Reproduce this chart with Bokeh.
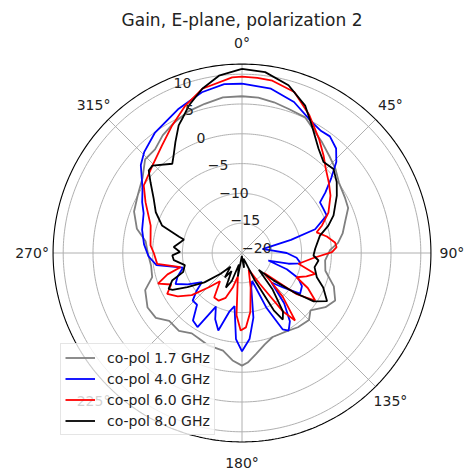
import numpy as np
from bokeh.plotting import figure
from bokeh.models import Legend, LegendItem, Range1d
from bokeh.core.properties import value
from bokeh.embed import file_html
from bokeh.resources import INLINE

# ---------------- data (angle in degrees clockwise from top, gain in dB) -------------
title_text = "Gain, E-plane, polarization 2"
series_labels = ["co-pol 1.7 GHz", "co-pol 4.0 GHz", "co-pol 6.0 GHz", "co-pol 8.0 GHz"]
series_colors = ["gray", "blue", "red", "black"]

ang_17 = [0, 6, 12, 18, 25, 29, 36, 42, 48, 54, 62, 67, 73, 79, 84, 88, 95, 102, 110, 117,
          123, 130, 135, 143, 151, 160, 166, 172, 177, 180, 185, 191, 200, 206, 212, 219, 227,
          233, 240, 249, 255, 262, 270, 277, 283, 291, 299, 307, 314, 320, 326, 332, 339, 346,
          353, 360]
gain_17 = [6.3, 6.2, 5.85, 5.4, 5.1, 4.15, 2.9, 1.9, 1.1, 0.1, -0.4, -0.65, -1.9, -2.8, -3.8,
           -5.2, -6.0, -5.7, -3.6, -2.45, -3.3, -5.0, -4.1, -4.4, -4.9, -5.0, -4.2, -2.9, -1.6,
           -1.1, -1.9, -3.3, -3.5, -3.9, -4.1, -3.2, -3.3, -1.9, -1.7, -2.6, -4.4, -4.6, -4.2,
           -3.7, -1.9, -0.6, 0.0, 0.9, 2.6, 2.7, 3.8, 4.6, 5.4, 5.8, 6.3, 6.3]

ang_40 = [0, 10, 19, 28, 33, 37, 42, 46, 50, 54, 57, 61, 66, 72, 75, 79, 85, 90, 95, 100, 103,
          106, 110, 114, 119, 125, 130, 135, 140, 145, 149, 152, 156, 160, 165, 170, 175, 180,
          184, 188, 192, 197, 202, 206, 211, 216, 221, 226, 230, 234, 240, 245, 250, 256, 262,
          268, 275, 283, 292, 297, 303, 311, 316, 324, 336, 346, 354, 360]
gain_40 = [8.4, 8.0, 6.8, 4.9, 4.4, 4.5, 3.6, 2.0, -0.45, -2.7, -4.4, -4.45, -4.45, -7.1, -11.5,
           -16.5, -15, -12.5, -10.8, -10.0, -12, -15.4, -12, -9.7, -8.5, -8.1, -11, -13, -9, -6,
           -4.8, -5.5, -10, -15, -14, -9, -5.5, -3.5, -5.5, -11, -10, -6.4, -8, -10, -5.5, -6,
           -8.5, -8.5, -10, -11.7, -9.5, -7.7, -8.5, -9.8, -5.5, -4.3, -3.5, -2.8, -2.2, -1.2,
           -0.1, 2.5, 3.6, 4.9, 6.4, 7.8, 8.5, 8.4]

ang_60 = [0, 5, 10, 18, 26, 34, 40, 45, 51, 57, 65, 71, 74.5, 79, 83.5, 86.5, 89.5, 94, 100.8,
          105.9, 110, 114, 118, 123, 127, 132, 137, 141.8, 145, 150, 158, 166, 172, 177, 181,
          185, 190, 195, 200, 206, 212, 218, 224, 230, 236, 241.4, 246, 250, 254, 257, 262.7,
          270, 274.7, 286.7, 297.8, 304.5, 314.3, 323.4, 331.3, 339, 346.4, 356.8, 360]
gain_60 = [9.6, 9.5, 9.35, 8.4, 5.75, 3.1, 1.3, -0.1, -1.25, -2.3, -4.0, -5.8, -7.0, -5.5, -4.3,
           -4.1, -4.9, -8, -10.35, -7.2, -8.5, -10, -7.5, -5.35, -8.5, -15, -10, -5.6, -8, -14,
           -17, -14, -10, -7.5, -7.0, -9.5, -16, -14, -12, -11.1, -11.2, -14, -12, -9, -7, -5.7,
           -7.0, -5.0, -7.0, -9.4, -5.65, -5.2, -4.6, -4.0, -1.7, 0.0, 1.0, 2.5, 4.4, 6.5, 8.35,
           9.5, 9.6]

ang_80 = [0, 7.3, 15.5, 23.2, 28.7, 36.3, 41.9, 47.4, 53.2, 58.8, 67.7, 72.4, 77.4, 86.7, 92,
          95.6, 101, 108, 113, 119.5, 124, 127, 131, 135, 140, 145, 148.5, 151, 155, 160, 166,
          172, 177, 183, 190, 195, 200, 205, 210, 215, 220, 226, 232, 238, 242, 244, 248.5, 252,
          258, 264, 268, 271, 275, 280.5, 283, 284.5, 289, 295.3, 301.6, 307.7, 311.5, 314.3,
          322, 325, 329, 333.6, 336, 340.2, 346.4, 352.6, 360]
gain_80 = [10.9, 10.6, 9.2, 6.9, 4.4, 1.7, 0.5, 0.85, -0.15, -1.4, -3.4, -4.8, -6.6, -7.7, -8.0,
           -7.1, -7.6, -6.8, -5.2, -3.6, -5.5, -9, -13, -16, -12, -8, -6.9, -9, -15, -18.5, -19,
           -17.5, -19, -19.5, -16, -18, -15, -13.6, -16.5, -15, -17, -15, -12, -9.2, -6.8, -6.3,
           -7.4, -9.6, -10.2, -8.5, -8.3, -9.6, -8.5, -9.6, -10.0, -9.1, -5.8, -4.0, -2.6,
           -0.6, 0.9, 1.0, -1.0, 0.0, 1.7, 3.9, 4.65, 6.3, 8.35, 10.0, 10.9]

r_ticks = [-20, -15, -10, -5, 0, 5, 10]
theta_ticks = [0, 45, 90, 135, 180, 225, 270, 315]

# ---------------- geometry -------------
RMIN, RMAX = -20.0, 11.7
PX = 5.96                 # pixels per dB
W, H = 468, 470
CX, CY = 241.5, 252.5     # polar centre, px from top-left of the figure
RLABEL_ANGLE = 337.5
FONT = "DejaVu Sans"


def to_xy(theta_deg, db):
    t = np.radians(np.asarray(theta_deg, dtype=float))
    r = np.clip(np.asarray(db, dtype=float) - RMIN, 0, None)
    return r * np.sin(t), r * np.cos(t)


p = figure(width=W, height=H, output_backend="svg", toolbar_location=None,
           x_axis_type=None, y_axis_type=None, min_border=0,
           x_range=Range1d(-CX / PX, (W - CX) / PX),
           y_range=Range1d(-(H - CY) / PX, CY / PX))
p.outline_line_color = None
p.background_fill_color = "white"

# grid rings
ring_t = np.linspace(0, 360, 361)
rx, ry = [], []
for v in r_ticks[1:]:
    x, y = to_xy(ring_t, np.full_like(ring_t, v))
    rx.append(list(x)); ry.append(list(y))
p.multi_line(rx, ry, line_color="#b0b0b0", line_width=1)

# spokes
sx, sy = [], []
for a in theta_ticks:
    x, y = to_xy([a, a], [RMIN, RMAX])
    sx.append(list(x)); sy.append(list(y))
p.multi_line(sx, sy, line_color="#b0b0b0", line_width=1)

# outer spine
ox, oy = to_xy(ring_t, np.full_like(ring_t, RMAX))
p.line(ox, oy, line_color="black", line_width=1.1)

# data curves
renderers = []
for ang, gain, col in [(ang_17, gain_17, series_colors[0]), (ang_40, gain_40, series_colors[1]),
                       (ang_60, gain_60, series_colors[2]), (ang_80, gain_80, series_colors[3])]:
    x, y = to_xy(ang, gain)
    renderers.append(p.line(x, y, line_color=col, line_width=1.8))

# radial tick labels
lx, ly = to_xy([RLABEL_ANGLE] * len(r_ticks), r_ticks)
p.text(x=list(lx), y=list(ly), text=[str(v).replace("-", "\u2212") for v in r_ticks],
       text_font=value(FONT), text_font_size="14px", text_color="#222222",
       text_align="left", text_baseline="bottom")

# angular tick labels
off = 21.0 / PX
ax_, ay_ = to_xy(theta_ticks, [RMAX + off] * len(theta_ticks))
p.text(x=list(ax_), y=list(ay_), text=[f"{a}\u00b0" for a in theta_ticks],
       text_font=value(FONT), text_font_size="14px", text_color="#222222",
       text_align="center", text_baseline="middle")

# title
p.text(x=[0], y=[(CY - 19) / PX], text=[title_text], text_font=value(FONT),
       text_font_size="17px", text_color="#222222", text_align="center",
       text_baseline="middle")

legend = Legend(items=[LegendItem(label=lab, renderers=[r])
                       for lab, r in zip(series_labels, renderers)],
                location=(60, 35))
legend.label_text_font = FONT
legend.label_text_font_size = "14px"
legend.label_text_color = "#222222"
legend.glyph_width = 30
legend.glyph_height = 19
legend.label_height = 19
legend.label_standoff = 12
legend.spacing = 2
legend.padding = 4
legend.margin = 0
legend.border_line_color = "#cccccc"
legend.background_fill_alpha = 0.8
p.add_layout(legend)

open("out.html", "w").write(file_html(p, INLINE))
